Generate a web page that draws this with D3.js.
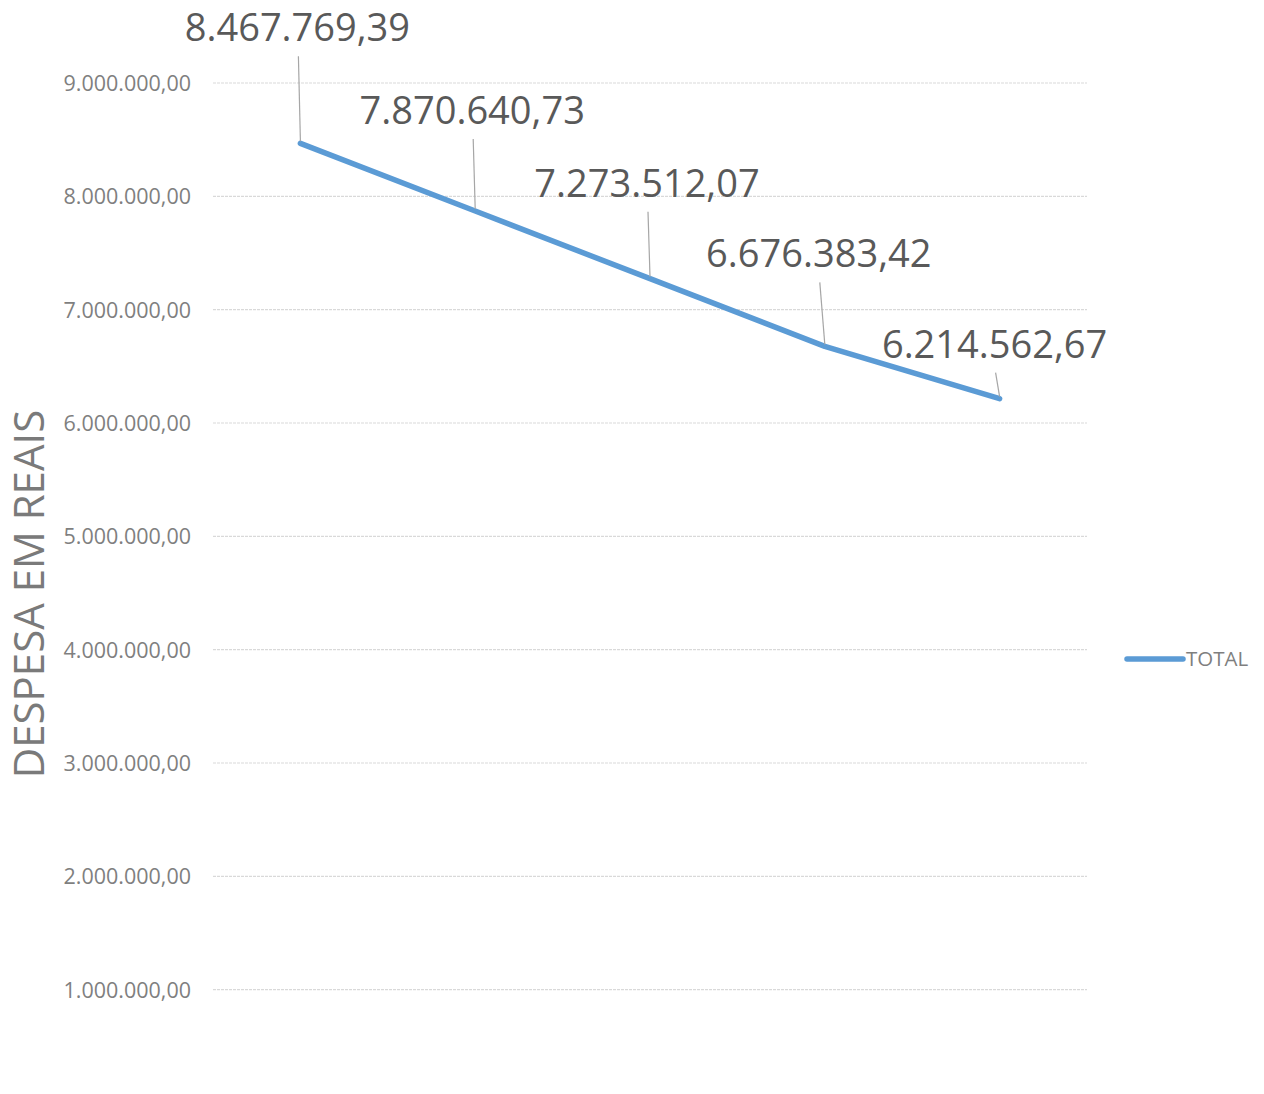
<!DOCTYPE html>
<html>
<head>
<meta charset="utf-8">
<script src="https://cdn.jsdelivr.net/npm/d3@7"></script>
<style>
  body { margin: 0; background: #fff; }
  text { font-family: "Open Sans", sans-serif; }
</style>
</head>
<body>
<script>
// data
var years = ["2014", "2015", "2016", "2017", "2018"];
var totals = [8467769.39, 7870640.73, 7273512.07, 6676383.42, 6214562.67];
var tickValues = [1000000, 2000000, 3000000, 4000000, 5000000, 6000000, 7000000, 8000000, 9000000];
var seriesName = "TOTAL";
var axisTitle = "DESPESA EM REAIS";

var width = 1264, height = 1094;
var plot = {left: 213, right: 1087, top: 83, bottom: 1103};

var fmt = function(v) {
  var parts = v.toFixed(2).split(".");
  return parts[0].replace(/\B(?=(\d{3})+(?!\d))/g, ".") + "," + parts[1];
};

var svg = d3.select("body").append("svg")
    .attr("width", width)
    .attr("height", height);

var x = d3.scalePoint().domain(years).range([plot.left, plot.right]).padding(0.5);
var y = d3.scaleLinear().domain([0, 9000000]).range([plot.bottom, plot.top]);

// gridlines
svg.append("g")
  .selectAll("line")
  .data(tickValues)
  .enter()
  .append("line")
    .attr("x1", plot.left)
    .attr("x2", plot.right)
    .attr("y1", function(d) { return y(d); })
    .attr("y2", function(d) { return y(d); })
    .attr("stroke", "#d9d9d9")
    .attr("stroke-width", 1.2)
    .attr("stroke-dasharray", "3,1");

// y axis labels
var yAxis = svg.append("g")
    .attr("transform", "translate(" + (plot.left - 22) + ",0)")
    .call(d3.axisLeft(y).tickValues(tickValues).tickFormat(fmt).tickSize(0).tickPadding(0));
yAxis.select(".domain").remove();
yAxis.selectAll("text")
    .attr("font-family", "Open Sans, sans-serif")
    .attr("font-size", 21.5)
    .attr("fill", "#7f7f7f")
    .attr("dy", "0.35em");

// axis title
svg.append("text")
    .attr("transform", "translate(44," + 594 + ") rotate(-90)")
    .attr("text-anchor", "middle")
    .attr("font-size", 42)
    .attr("fill", "#7a7a7a")
    .text(axisTitle);

// line
var line = d3.line()
    .x(function(d, i) { return x(years[i]); })
    .y(function(d) { return y(d); });

svg.append("path")
    .datum(totals)
    .attr("fill", "none")
    .attr("stroke", "#5b9bd5")
    .attr("stroke-width", 5.5)
    .attr("stroke-linecap", "round")
    .attr("stroke-linejoin", "round")
    .attr("d", line);

// data labels with leader lines
var labelDy = [-102, -87, -82, -79, -41];
var labelDx = [-3, -3, -3, -6, -5];

var labels = svg.append("g")
  .selectAll("g")
  .data(totals)
  .enter()
  .append("g");

labels.append("line")
    .attr("x1", function(d, i) { return x(years[i]) + labelDx[i] + 1; })
    .attr("y1", function(d, i) { return y(d) + labelDy[i] + 15; })
    .attr("x2", function(d, i) { return x(years[i]); })
    .attr("y2", function(d) { return y(d) - 2; })
    .attr("stroke", "#a6a6a6")
    .attr("stroke-width", 1.2);

labels.append("text")
    .attr("x", function(d, i) { return x(years[i]) + labelDx[i]; })
    .attr("y", function(d, i) { return y(d) + labelDy[i]; })
    .attr("text-anchor", "middle")
    .attr("font-size", 38)
    .attr("fill", "#595959")
    .text(fmt);

// legend
var legend = svg.append("g").attr("transform", "translate(1127,659)");
legend.append("line")
    .attr("x1", 0).attr("x2", 56)
    .attr("stroke", "#5b9bd5")
    .attr("stroke-width", 5.5)
    .attr("stroke-linecap", "round");
legend.append("text")
    .attr("x", 59)
    .attr("dy", "0.35em")
    .attr("font-size", 20.5)
    .attr("fill", "#7f7f7f")
    .text(seriesName);
</script>
</body>
</html>
